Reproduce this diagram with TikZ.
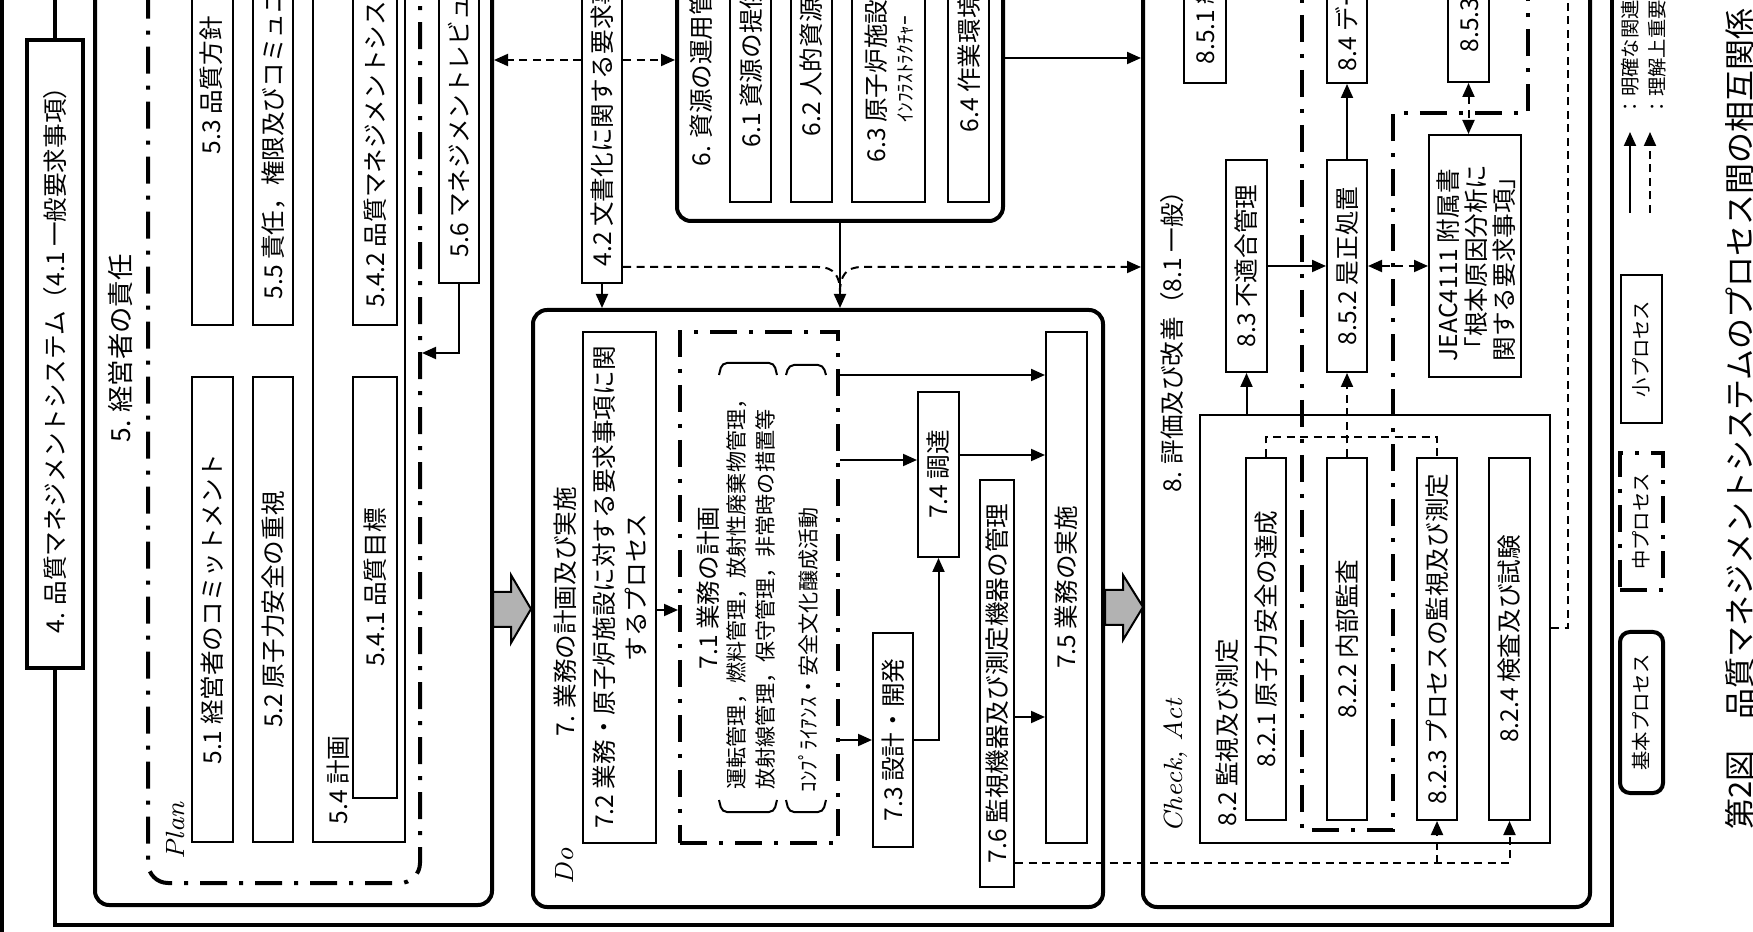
\documentclass[tikz,border=0pt]{standalone}
\usepackage{fontspec}
\newfontfamily\jp{Noto Sans CJK JP}
\usetikzlibrary{arrows.meta,fit}

\begin{document}
\begin{tikzpicture}[>={Triangle[length=1.4mm,width=1.2mm]}, x=0.1mm, y=-0.1mm]

% Colors
\definecolor{blockfill}{RGB}{178,178,178}

% Styles
\tikzset{
  framebox/.style={
    draw,
    line width=0.4mm,
    inner sep=0pt
  },
  basebox/.style={
    draw,
    line width=0.4mm,
    rounded corners=1.4mm,
    inner sep=0pt
  },
  midbox/.style={
    draw,
    line width=0.4mm,
    dash pattern=on 2.7mm off 1.2mm on 0.4mm off 1.2mm,
    inner sep=0pt
  },
  midline/.style={
    line width=0.4mm,
    dash pattern=on 2.7mm off 1.2mm on 0.4mm off 1.2mm
  },
  smallbox/.style={
    draw,
    line width=0.2mm,
    inner sep=0pt
  },
  vtext/.style={
    rotate=90,
    inner sep=0pt,
    font=\jp\fontsize{7}{9}\selectfont
  },
  vnote/.style={
    vtext,
    font=\jp\fontsize{6}{7}\selectfont
  },
  vlegend/.style={
    vtext,
    font=\jp\fontsize{5.5}{6.5}\selectfont
  },
  vcaption/.style={
    vtext,
    font=\jp\fontsize{8.8}{10}\selectfont
  },
  vphase/.style={
    rotate=90,
    inner sep=0pt,
    font=\itshape\fontsize{7.5}{9}\selectfont
  },
  direct/.style={
    ->,
    line width=0.2mm
  },
  weak/.style={
    ->,
    line width=0.2mm,
    dash pattern=on 0.8mm off 0.55mm
  },
  weakline/.style={
    line width=0.2mm,
    dash pattern=on 0.8mm off 0.55mm
  },
  weakboth/.style={
    <->,
    line width=0.2mm,
    dash pattern=on 0.8mm off 0.55mm
  },
  bracket/.style={
    line width=0.2mm,
    rounded corners=0.5mm
  },
  blockarrow/.style={
    draw,
    line width=0.2mm,
    fill=blockfill
  }
}

% Page
\useasboundingbox (0,0) rectangle (1753,932);
\fill[white] (0,0) rectangle (1753,932);
\clip (0,0) rectangle (1753,932);

% ----------------------------
% Outer frame (4.)
% ----------------------------
\node[framebox, fit={(27,40) (83,668)}] (qms) {};
\node[vtext] (qmst) at (qms.center) {4. 品質マネジメントシステム（4.1 一般要求事項）};
\coordinate (frameBR) at (1612,925);
\draw[line width=0.4mm] (qms.north) -- (qms.north |- 0,-20);
\draw[line width=0.4mm] (qms.south) |- (frameBR) -- (frameBR |- 0,-20);
\draw[line width=0.45mm] (2,-20) -- (2,950);

% ----------------------------
% 5. Management responsibility (Plan)
% ----------------------------
\node[basebox, fit={(95,-40) (492,905)}] (mgmt) {};
\node[vtext, anchor=west, font=\jp\fontsize{7.5}{9}\selectfont] (mgmtt) at (120,443) {5. 経営者の責任};
\node[midbox, rounded corners=2mm, fit={(148,-40) (420,883)}] (plan) {};
\node[vphase, anchor=west] (plant) at (175,860) {Plan};

\node[smallbox, fit={(192,377) (233,842)}] (commit) {};
\node[vtext] (committ) at (commit.center) {5.1 経営者のコミットメント};
\node[smallbox, fit={(192,-40) (233,325)}] (policy) {};
\node[vtext, anchor=west] (policyt) at (211,155) {5.3 品質方針};

\node[smallbox, fit={(253,377) (293,842)}] (safety) {};
\node[vtext] (safetyt) at (safety.center) {5.2 原子力安全の重視};
\node[smallbox, fit={(253,-40) (293,325)}] (resp) {};
\node[vtext, anchor=west] (respt) at (273,300) {5.5 責任，権限及びコミュニケーション};

\node[smallbox, fit={(313,-40) (405,842)}] (planning) {};
\node[vtext, anchor=west] (planningt) at (338,825) {5.4 計画};
\node[smallbox, fit={(353,377) (397,798)}] (objectives) {};
\node[vtext] (objectivest) at (objectives.center) {5.4.1 品質目標};
\node[smallbox, fit={(353,-40) (397,325)}] (qmsplan) {};
\node[vtext, anchor=west] (qmsplant) at (375,308) {5.4.2 品質マネジメントシステム計画};

\node[smallbox, fit={(439,-40) (479,283)}] (review) {};
\node[vtext, anchor=west] (reviewt) at (459,258) {5.6 マネジメントレビュー};
\draw[direct] (review.south) |- (plan.east |- 0,353);

% ----------------------------
% 4.2 Documentation
% ----------------------------
\node[smallbox, fit={(582,-40) (622,283)}] (docs) {};
\node[vtext, anchor=west] (docst) at (602,267) {4.2 文書化に関する要求事項};

% ----------------------------
% 6. Resources
% ----------------------------
\node[basebox, fit={(677,-40) (1003,221)}] (res) {};
\node[vtext, anchor=west] (rest) at (701,167) {6. 資源の運用管理};
\node[smallbox, fit={(730,-40) (771,202)}] (provision) {};
\node[vtext, anchor=west] (provisiont) at (751,148) {6.1 資源の提供};
\node[smallbox, fit={(791,-40) (832,202)}] (human) {};
\node[vtext, anchor=west] (humant) at (811,137) {6.2 人的資源};
\node[smallbox, fit={(852,-40) (925,202)}] (infra) {};
\node[vtext, anchor=west] (infrat) at (876,163) {6.3 原子炉施設};
\node[vtext, anchor=west, font=\jp\fontsize{5.5}{6}\selectfont] (infrasub) at (905,123) {ｲﾝﾌﾗｽﾄﾗｸﾁｬｰ};
\node[smallbox, fit={(948,-40) (989,202)}] (env) {};
\node[vtext, anchor=west] (envt) at (969,133) {6.4 作業環境};

% ----------------------------
% 7. Realization (Do)
% ----------------------------
\node[basebox, fit={(533,310) (1103,907)}] (real) {};
\node[vtext, anchor=west] (realt) at (565,737) {7. 業務の計画及び実施};
\node[vphase, anchor=west] (dot) at (565,885) {Do};

\node[smallbox, fit={(583,332) (656,843)}] (reqs) {};
\node[vtext, align=center] (reqst) at (reqs.center) {7.2 業務・原子炉施設に対する要求事項に関\\するプロセス};

\node[midbox, fit={(680,332) (838,843)}] (oplan) {};
\node[vtext] (oplant) at (708,588) {7.1 業務の計画};
\node[vnote, anchor=west] (oplan1) at (737,790) {運転管理，燃料管理，放射性廃棄物管理，};
\node[vnote, anchor=west] (oplan2) at (766,790) {放射線管理，保守管理，非常時の措置等};
\node[vnote, anchor=west] (oplan3) at (808,793) {ｺﾝﾌﾟﾗｲｱﾝｽ・安全文化醸成活動};
\draw[bracket] (719,375) -- (722,363) -- (774,363) -- (777,375);
\draw[bracket] (719,800) -- (722,812) -- (774,812) -- (777,800);
\draw[bracket] (786,375) -- (789,365) -- (823,365) -- (826,375);
\draw[bracket] (786,800) -- (789,812) -- (823,812) -- (826,800);

\node[smallbox, fit={(873,633) (913,847)}] (design) {};
\node[vtext] (designt) at (design.center) {7.3 設計・開発};
\node[smallbox, fit={(918,392) (959,557)}] (purch) {};
\node[vtext] (purcht) at (purch.center) {7.4 調達};
\node[smallbox, fit={(980,480) (1014,887)}] (monit) {};
\node[vtext] (monitt) at (monit.center) {7.6 監視機器及び測定機器の管理};
\node[smallbox, fit={(1046,332) (1087,843)}] (prod) {};
\node[vtext] (prodt) at (prod.center) {7.5 業務の実施};

\draw[direct] (reqs.east |- 0,610) -- (oplan.west |- 0,610);
\draw[direct] (oplan.east |- 0,375) -- (prod.west |- 0,375);
\draw[direct] (oplan.east |- 0,460) -- (purch.west |- 0,460);
\draw[direct] (oplan.east |- 0,740) -- (design.west);
\draw[direct] (design.east) -| (purch.south);
\draw[direct] (purch.east |- 0,455) -- (prod.west |- 0,455);
\draw[direct] (monit.east |- 0,717) -- (prod.west |- 0,717);

% ----------------------------
% 8. Measurement and improvement (Check, Act)
% ----------------------------
\node[basebox, fit={(1143,-40) (1590,907)}] (imp) {};
\node[vtext, anchor=west] (impt) at (1172,493) {8. 評価及び改善（8.1 一般）};
\node[vphase, anchor=west] (checkt) at (1176,833) {Check, Act};

\node[smallbox, fit={(1200,415) (1550,843)}] (meas) {};
\node[vtext, anchor=west] (meast) at (1227,827) {8.2 監視及び測定};
\node[smallbox, fit={(1246,458) (1286,820)}] (nsafe) {};
\node[vtext] (nsafet) at (nsafe.center) {8.2.1 原子力安全の達成};
\node[smallbox, fit={(1327,458) (1367,820)}] (audit) {};
\node[vtext] (auditt) at (audit.center) {8.2.2 内部監査};
\node[smallbox, fit={(1417,458) (1457,820)}] (procm) {};
\node[vtext] (procmt) at (procm.center) {8.2.3 プロセスの監視及び測定};
\node[smallbox, fit={(1489,458) (1530,820)}] (insp) {};
\node[vtext] (inspt) at (insp.center) {8.2.4 検査及び試験};

\node[smallbox, fit={(1226,160) (1267,372)}] (nonconf) {};
\node[vtext] (nonconft) at (nonconf.center) {8.3 不適合管理};
\node[smallbox, fit={(1327,160) (1367,372)}] (corr) {};
\node[vtext] (corrt) at (corr.center) {8.5.2 是正処置};
\node[smallbox, fit={(1327,-40) (1367,83)}] (data) {};
\node[vtext, anchor=west] (datat) at (1347,72) {8.4 データの分析};
\node[smallbox, fit={(1184,-40) (1226,83)}] (cont) {};
\node[vtext, anchor=west] (contt) at (1205,65) {8.5.1 継続的改善};
\node[smallbox, fit={(1448,-40) (1489,82)}] (prev) {};
\node[vtext, anchor=west] (prevt) at (1469,53) {8.5.3 予防処置};
\node[smallbox, fit={(1429,135) (1521,377)}] (jeac) {};
\node[vtext, anchor=west, align=left, font=\jp\fontsize{7}{8}\selectfont] (jeact) at (1476,362) {JEAC4111 附属書\\「根本原因分析に\\関する要求事項」};

% Middle process outline
\draw[midline] (1302,-40) -- (1302,830) -- (1393,830) -- (1393,113) -- (1528,113) -- (1528,-40);

\draw[direct] (meas.north -| nonconf.south) -- (nonconf.south);
\draw[direct] (nonconf.east) -- (corr.west);
\draw[direct] (corr.north) -- (data.south);
\draw[weak] (audit.north) -- (corr.south);
\draw[weakline] (nsafe.north) |- (procm.north |- 0,437) -- (procm.north);
\draw[weakboth] (corr.east) -- (jeac.west |- corr.east);
\draw[weakboth] (prev.south) -- (jeac.north -| prev.south);
\draw[weakline] (meas.east |- 0,628) -| (1568,-40);

% ----------------------------
% Links between phases
% ----------------------------
\draw[weak] (docs.west |- 0,60) -- (mgmt.east |- 0,60);
\draw[weak] (docs.east |- 0,60) -- (res.west |- 0,60);
\draw[direct] (docs.south) -- (real.north -| docs.south);
\draw[direct] (res.south) -- (real.north -| res.south);
\draw[direct] (res.east |- 0,58) -- (imp.west |- 0,58);
\draw[weakline] (docs.east |- 0,267) -- (818,267) .. controls (834,267) and (840,276) .. (res.south |- 0,292);
\draw[weak] (res.south |- 0,292) .. controls (840,276) and (846,267) .. (862,267) -- (imp.west |- 0,267);
\draw[weak] (monit.east |- 0,863) -| (insp.south);
\draw[weak] (procm.south |- 0,863) -- (procm.south);

% Block arrows
\draw[blockarrow] (493,592) -- (511,592) -- (511,575) -- (531,609) -- (511,643) -- (511,627) -- (493,627) -- cycle;
\draw[blockarrow] (1105,590) -- (1123,590) -- (1123,575) -- (1143,607) -- (1123,640) -- (1123,625) -- (1105,625) -- cycle;

% ----------------------------
% Legend
% ----------------------------
\node[basebox, rounded corners=1mm, fit={(1620,632) (1663,793)}] (lgbase) {};
\node[vlegend] (lgbaset) at (lgbase.center) {基本プロセス};
\node[midbox, fit={(1620,453) (1663,590)}] (lgmid) {};
\node[vlegend] (lgmidt) at (lgmid.center) {中プロセス};
\node[smallbox, fit={(1621,275) (1662,423)}] (lgsmall) {};
\node[vlegend] (lgsmallt) at (lgsmall.center) {小プロセス};

\coordinate (lgdirA) at (1630,213);
\coordinate (lgdirB) at (1630,132);
\coordinate (lgweakA) at (1650,213);
\coordinate (lgweakB) at (1650,132);
\draw[direct] (lgdirA) -- (lgdirB);
\draw[weak] (lgweakA) -- (lgweakB);
\node[vlegend, anchor=west] (lgdirt) at (1630,117) {：明確な関連};
\node[vlegend, anchor=west] (lgweakt) at (1657,117) {：理解上重要な関連};

% Caption
\node[vcaption, anchor=west] (caption) at (1740,830) {第2図　品質マネジメントシステムのプロセス間の相互関係};

\end{tikzpicture}
\end{document}
